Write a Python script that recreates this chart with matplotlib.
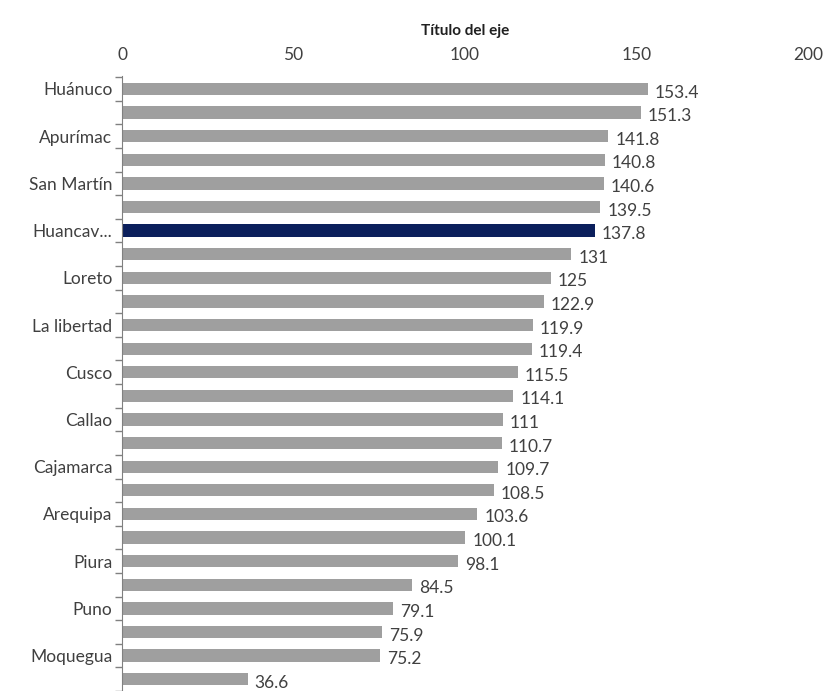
import matplotlib
matplotlib.use("Agg")
import matplotlib.pyplot as plt
import numpy as np

# bars from top to bottom; unlabeled categories are left blank like the source
CATEGORIES = ["Huánuco", "", "Apurímac", "", "San Martín", "", "Huancav...", "",
              "Loreto", "", "La libertad", "", "Cusco", "", "Callao", "",
              "Cajamarca", "", "Arequipa", "", "Piura", "", "Puno", "",
              "Moquegua", ""]
VALUES = [153.4, 151.3, 141.8, 140.8, 140.6, 139.5, 137.8, 131, 125, 122.9,
          119.9, 119.4, 115.5, 114.1, 111, 110.7, 109.7, 108.5, 103.6, 100.1,
          98.1, 84.5, 79.1, 75.9, 75.2, 36.6]
HIGHLIGHT = "Huancav..."

plt.rcParams["font.family"] = ["Lato", "DejaVu Sans"]

fig = plt.figure(figsize=(8.3, 6.91), dpi=100)
ax = fig.add_axes([122 / 830, 0.0, (808 - 122) / 830, 1 - 76 / 691])

n = len(VALUES)
y = np.arange(n)
colors = ["#0b1f5c" if c == HIGHLIGHT else "#9f9f9f" for c in CATEGORIES]
ax.barh(y, VALUES, height=0.52, color=colors, edgecolor="none")

for yi, v in zip(y, VALUES):
    ax.text(v + 2.0, yi + 0.15, f"{v:g}", ha="left", va="center",
            fontsize=12.5, color="#404040")

ax.set_xlim(0, 200)
ax.set_ylim(25.3, -0.55)
ax.xaxis.tick_top()
ax.xaxis.set_label_position("top")
ax.set_xticks([0, 50, 100, 150, 200])
ax.tick_params(axis="x", length=0, labelsize=12.5, labelcolor="#404040", pad=9)
ax.set_xlabel("Título del eje", fontsize=11, fontweight="bold",
              color="#202020", labelpad=9)

# category labels on every other bar, tick marks at category boundaries
ax.set_yticks(y[::2])
ax.set_yticklabels([CATEGORIES[i] for i in y[::2]])
ax.set_yticks(np.arange(-0.5, n, 1), minor=True)
ax.tick_params(axis="y", which="major", length=0, labelsize=12.5,
               labelcolor="#404040", pad=7)
ax.tick_params(axis="y", which="minor", length=5, color="#808080", width=1)

for s in ("top", "right", "bottom"):
    ax.spines[s].set_visible(False)
ax.spines["left"].set_color("#808080")

fig.savefig("out.png", dpi=100)
